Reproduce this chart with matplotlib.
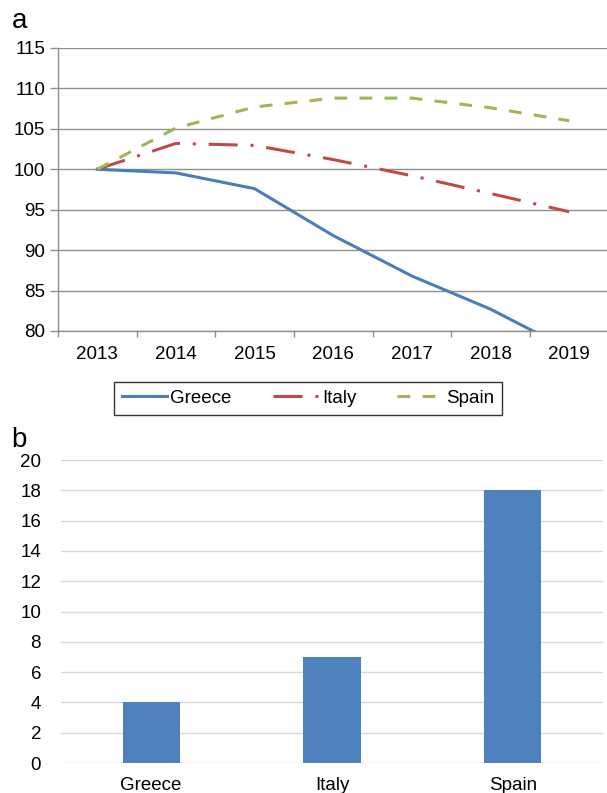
import numpy as np
import matplotlib
matplotlib.use("Agg")
import matplotlib.pyplot as plt

plt.rcParams["font.family"] = ["Liberation Sans", "DejaVu Sans"]

# panel a: index, 2013 = 100
years = ["2013", "2014", "2015", "2016", "2017", "2018", "2019"]
greece = [100, 99.55, 97.6, 91.8, 86.8, 82.7, 77.7]
italy = [100, 103.2, 102.95, 101.2, 99.2, 97.0, 94.75]
spain = [100, 105.1, 107.7, 108.8, 108.8, 107.6, 106.0]

# panel b
countries = ["Greece", "Italy", "Spain"]
bar_values = [4, 7, 18]

blue = "#4a7ebb"
red = "#be4b48"
green = "#98b954"
grid_gray = "#8f8f8f"
fs = 13.5

fig = plt.figure(figsize=(6.07, 7.93), dpi=100)

# ---- panel a ----
ax1 = fig.add_axes([0.0955, 0.5826, 0.907, 0.3569])
x = np.arange(len(years))
ax1.plot(x, greece, color=blue, lw=2.2, label="Greece")
ax1.plot(x, italy, color=red, lw=2.2, label="Italy",
         dashes=(9.5, 4.2, 1, 4.2), dash_capstyle="butt")
ax1.plot(x, spain, color=green, lw=2.2, label="Spain",
         dashes=(4.2, 4.0), dash_capstyle="butt")
ax1.set_xlim(-0.5, 6.5)
ax1.set_ylim(80, 115)
ax1.set_yticks(np.arange(80, 116, 5))
ax1.set_xticks(x)
ax1.set_xticklabels(years)
ax1.set_xticks(np.arange(-0.5, 7, 1), minor=True)
ax1.tick_params(axis="x", which="major", length=0, pad=11, labelsize=fs)
ax1.tick_params(axis="x", which="minor", length=4.5, color=grid_gray, width=1)
ax1.tick_params(axis="y", length=6, color=grid_gray, width=1, labelsize=fs, pad=3)
ax1.yaxis.grid(True, color=grid_gray, lw=1)
ax1.set_axisbelow(True)
for side in ["top", "right"]:
    ax1.spines[side].set_visible(False)
for side in ["left", "bottom"]:
    ax1.spines[side].set_color(grid_gray)
    ax1.spines[side].set_linewidth(1)
fig.text(0.02, 0.9647, "a", fontsize=20, va="baseline", ha="left")

leg = fig.legend(loc="center", bbox_to_anchor=(0.5075, 0.4975), ncol=3,
                 frameon=True, fancybox=False, edgecolor="black",
                 fontsize=fs, handlelength=2.4, handletextpad=0.2,
                 columnspacing=2.2, borderpad=0.4, borderaxespad=0)
leg.get_frame().set_linewidth(1)

# ---- panel b ----
ax2 = fig.add_axes([0.0997, 0.0378, 0.8945, 0.3821])
xb = np.arange(len(countries))
ax2.bar(xb, bar_values, width=0.315, color="#4f81bd", zorder=3)
ax2.set_xlim(-0.5, 2.5)
ax2.set_ylim(0, 20)
ax2.set_yticks(np.arange(0, 21, 2))
ax2.set_xticks(xb)
ax2.set_xticklabels(countries)
ax2.tick_params(axis="both", length=0, labelsize=fs)
ax2.tick_params(axis="x", pad=10)
ax2.tick_params(axis="y", pad=14)
ax2.yaxis.grid(True, color="#d9d9d9", lw=1)
ax2.set_axisbelow(True)
for side in ["top", "right", "left", "bottom"]:
    ax2.spines[side].set_visible(False)
fig.text(0.018, 0.4363, "b", fontsize=20, va="baseline", ha="left")

fig.savefig("out.png", dpi=100)
